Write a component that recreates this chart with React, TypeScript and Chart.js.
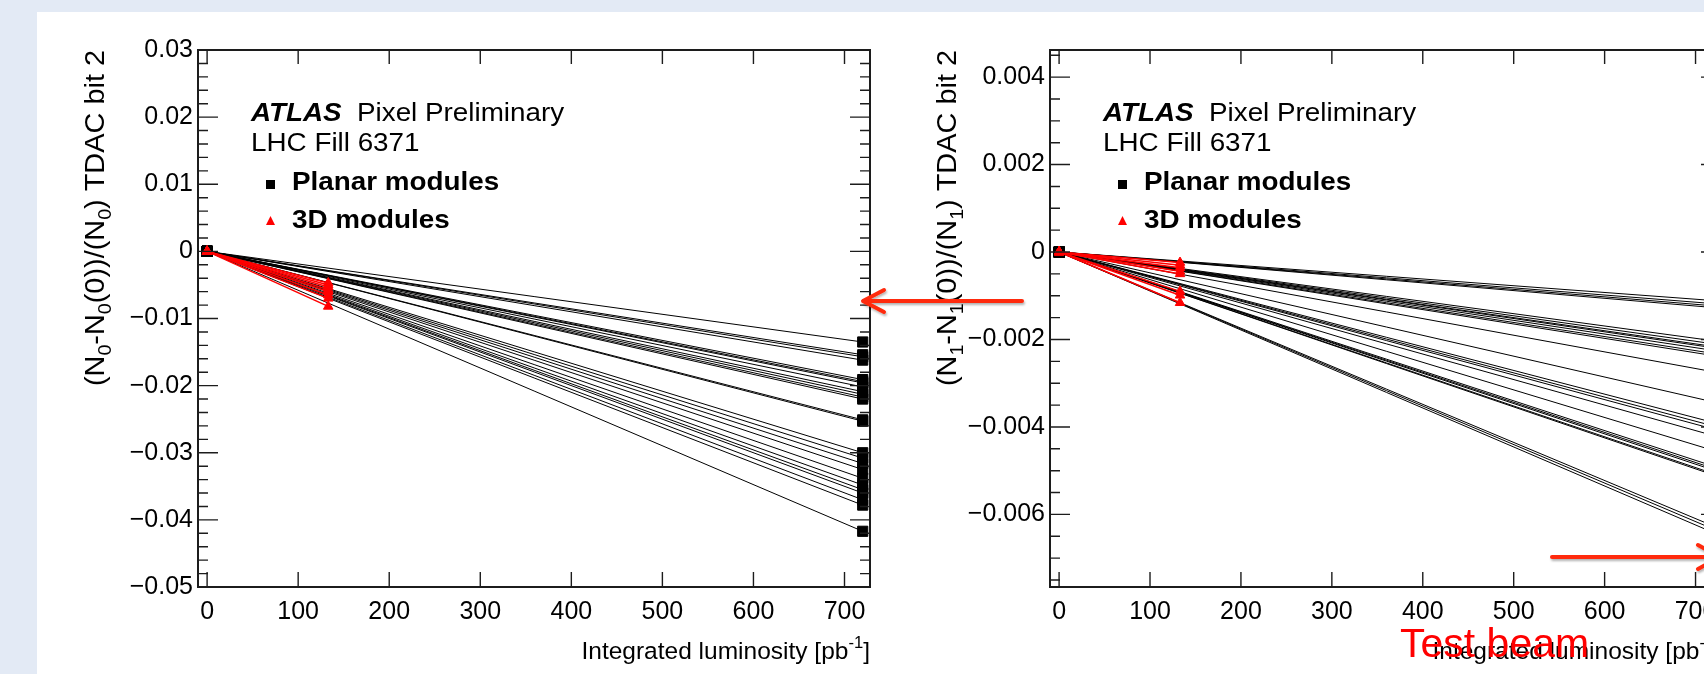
import React, { useEffect, useRef } from "react";
import { Chart, registerables } from "chart.js";

Chart.register(...registerables);

// ---------- data ----------
const LUMI_START = 0;
const LUMI_3D = 133;
const LUMI_PLANAR = 720;

const X_TICKS = [0, 100, 200, 300, 400, 500, 600, 700];
const X_TICK_LABELS = ["0", "100", "200", "300", "400", "500", "600", "700"];

const LEFT_Y_TICKS = [-0.05, -0.04, -0.03, -0.02, -0.01, 0, 0.01, 0.02, 0.03];
const LEFT_Y_TICK_LABELS = ["\u22120.05", "\u22120.04", "\u22120.03", "\u22120.02", "\u22120.01", "0", "0.01", "0.02", "0.03"];

const RIGHT_Y_TICKS = [-0.006, -0.004, -0.002, 0, 0.002, 0.004];
const RIGHT_Y_TICK_LABELS = ["\u22120.006", "\u22120.004", "\u22120.002", "0", "0.002", "0.004"];

// relative change at the end of the fill, per module (bit 2, N0)
const LEFT_PLANAR_END = [
  -0.0135, -0.0154, -0.0157, -0.0162, -0.0191, -0.0194, -0.0196, -0.0202, -0.0209,
  -0.0213, -0.0217, -0.022, -0.0251, -0.0253, -0.03, -0.0308, -0.0316, -0.0325,
  -0.0338, -0.0348, -0.0355, -0.036, -0.037, -0.0378, -0.0417,
];
const LEFT_3D_END = [-0.0047, -0.005, -0.0053, -0.0057, -0.006, -0.0065, -0.007, -0.0082];

// relative change per module (bit 2, N1)
const RIGHT_PLANAR_END = [
  -0.00111, -0.00118, -0.00123, -0.00127, -0.00203, -0.0021, -0.00216, -0.00219,
  -0.00225, -0.00232, -0.00237, -0.00274, -0.00343, -0.0039, -0.00398, -0.00405,
  -0.0042, -0.00454, -0.0049, -0.00495, -0.00499, -0.00507, -0.0051, -0.00627,
  -0.00634, -0.00642,
];
const RIGHT_3D_END = [-0.00024, -0.0003, -0.00036, -0.00044, -0.0005, -0.0009, -0.00099, -0.00116];

// ---------- style ----------
const FONT = '"Liberation Sans", Arial, Helvetica, sans-serif';
const BG = "#e3eaf5";
const ARROW = "#ff2a0a";
const TICK_FONT = 25;

type Panel = {
  yMin: number;
  yMax: number;
  yTicks: number[];
  yLabels: string[];
  yMinorStep: number;
  sub: string;
  planar: number[];
  threeD: number[];
  yAxisWidth: number;
  padRight: number;
};

const LEFT_PANEL: Panel = {
  yMin: -0.05,
  yMax: 0.03,
  yTicks: LEFT_Y_TICKS,
  yLabels: LEFT_Y_TICK_LABELS,
  yMinorStep: 0.002,
  sub: "0",
  planar: LEFT_PLANAR_END,
  threeD: LEFT_3D_END,
  yAxisWidth: 161,
  padRight: 10,
};

const RIGHT_PANEL: Panel = {
  yMin: -0.00766,
  yMax: 0.00462,
  yTicks: RIGHT_Y_TICKS,
  yLabels: RIGHT_Y_TICK_LABELS,
  yMinorStep: 0.0005,
  sub: "1",
  planar: RIGHT_PLANAR_END,
  threeD: RIGHT_3D_END,
  yAxisWidth: 170,
  padRight: 19,
};

function f(size: number, weight = "normal", style = "normal") {
  return `${style} ${weight} ${size}px ${FONT}`;
}

type Run = { t: string; k: "n" | "sub" | "sup" };

function runsWidth(ctx: CanvasRenderingContext2D, runs: Run[], size: number) {
  let w = 0;
  for (const r of runs) {
    ctx.font = f(r.k === "n" ? size : size * 0.68);
    w += ctx.measureText(r.t).width;
  }
  return w;
}

function drawRuns(ctx: CanvasRenderingContext2D, runs: Run[], size: number) {
  let x = 0;
  for (const r of runs) {
    const s = r.k === "n" ? size : size * 0.68;
    ctx.font = f(s);
    const dy = r.k === "sub" ? size * 0.27 : r.k === "sup" ? -size * 0.45 : 0;
    ctx.fillText(r.t, x, dy);
    x += ctx.measureText(r.t).width;
  }
}

function stretchText(
  ctx: CanvasRenderingContext2D,
  text: string,
  x: number,
  y: number,
  font: string,
  sx: number
) {
  ctx.save();
  ctx.font = font;
  ctx.translate(x, y);
  ctx.scale(sx, 1);
  ctx.fillText(text, 0, 0);
  ctx.restore();
}

function makePlugin(p: Panel) {
  return {
    id: "rootStyle",
    afterDatasetsDraw(chart: any) {
      const { ctx, chartArea: a, scales } = chart;
      const xs = scales.x;
      const ys = scales.y;
      ctx.save();
      ctx.strokeStyle = "#1c1c1c";
      ctx.lineWidth = 1.4;
      ctx.beginPath();
      for (const v of p.yTicks) {
        const py = ys.getPixelForValue(v);
        ctx.moveTo(a.left, py);
        ctx.lineTo(a.left + 20, py);
        ctx.moveTo(a.right, py);
        ctx.lineTo(a.right - 20, py);
      }
      const n0 = Math.ceil(p.yMin / p.yMinorStep - 1e-6);
      const n1 = Math.floor(p.yMax / p.yMinorStep + 1e-6);
      for (let i = n0; i <= n1; i++) {
        const py = ys.getPixelForValue(i * p.yMinorStep);
        ctx.moveTo(a.left, py);
        ctx.lineTo(a.left + 10, py);
        ctx.moveTo(a.right, py);
        ctx.lineTo(a.right - 10, py);
      }
      for (const v of X_TICKS) {
        const px = xs.getPixelForValue(v);
        ctx.moveTo(px, a.bottom);
        ctx.lineTo(px, a.bottom - 15);
        ctx.moveTo(px, a.top);
        ctx.lineTo(px, a.top + 14);
      }
      ctx.stroke();
      ctx.lineWidth = 2;
      ctx.strokeRect(a.left, a.top, a.right - a.left, a.bottom - a.top);

      // axis titles
      ctx.fillStyle = "#000";
      ctx.textBaseline = "alphabetic";
      ctx.textAlign = "left";
      const ySize = 27;
      const ySx = 1.07;
      const yRuns: Run[] = [
        { t: "(N", k: "n" },
        { t: p.sub, k: "sub" },
        { t: "-N", k: "n" },
        { t: p.sub, k: "sub" },
        { t: "(0))/(N", k: "n" },
        { t: p.sub, k: "sub" },
        { t: ") TDAC bit 2", k: "n" },
      ];
      const yw = runsWidth(ctx, yRuns, ySize) * ySx;
      ctx.save();
      ctx.translate(a.left - 94, a.top + yw);
      ctx.rotate(-Math.PI / 2);
      ctx.scale(ySx, 1);
      drawRuns(ctx, yRuns, ySize);
      ctx.restore();

      const xSize = 24.5;
      const xRuns: Run[] = [
        { t: "Integrated luminosity [pb", k: "n" },
        { t: "-1", k: "sup" },
        { t: "]", k: "n" },
      ];
      const xw = runsWidth(ctx, xRuns, xSize);
      ctx.save();
      ctx.translate(a.right - xw, a.bottom + 72);
      drawRuns(ctx, xRuns, xSize);
      ctx.restore();

      // legend block
      const L = a.left;
      const T = a.top;
      const lsx = 1.07;
      stretchText(ctx, "ATLAS", L + 53, T + 71, f(26, "bold", "italic"), lsx);
      stretchText(ctx, "Pixel Preliminary", L + 159, T + 71, f(26), lsx);
      stretchText(ctx, "LHC Fill 6371", L + 53, T + 101, f(26), lsx);
      stretchText(ctx, "Planar modules", L + 94, T + 140, f(26, "bold"), lsx);
      stretchText(ctx, "3D modules", L + 94, T + 178, f(26, "bold"), lsx);
      ctx.fillStyle = "#000";
      ctx.fillRect(L + 68, T + 130, 9, 9);
      ctx.fillStyle = "#ff0000";
      ctx.beginPath();
      ctx.moveTo(L + 72.5, T + 166);
      ctx.lineTo(L + 77, T + 175);
      ctx.lineTo(L + 68, T + 175);
      ctx.closePath();
      ctx.fill();
      ctx.restore();
    },
  };
}

function buildDatasets(p: Panel) {
  const red = p.threeD.map((v) => ({
    data: [
      { x: LUMI_START, y: 0 },
      { x: LUMI_3D, y: v },
    ],
    showLine: true,
    borderColor: "#ff0000",
    backgroundColor: "#ff0000",
    borderWidth: 1.5,
    pointStyle: "triangle",
    pointRadius: 5.5,
    pointBorderWidth: 1,
    pointBorderColor: "#ff0000",
  }));
  const black = p.planar.map((v) => ({
    data: [
      { x: LUMI_START, y: 0 },
      { x: LUMI_PLANAR, y: v },
    ],
    showLine: true,
    borderColor: "#000",
    backgroundColor: "#000",
    borderWidth: 1,
    pointStyle: "rect",
    pointRadius: 7.2,
    pointBorderWidth: 1,
    pointBorderColor: "#000",
  }));
  return [...red, ...black];
}

function buildConfig(p: Panel): any {
  return {
    type: "scatter",
    data: { datasets: buildDatasets(p) },
    options: {
      animation: false,
      responsive: false,
      devicePixelRatio: 1,
      events: [],
      layout: { padding: { left: 0, top: 38, right: p.padRight, bottom: 0 } },
      plugins: { legend: { display: false }, tooltip: { enabled: false } },
      scales: {
        x: {
          type: "linear",
          min: -10,
          max: 728,
          grid: { display: false, drawTicks: false },
          border: { display: false },
          afterBuildTicks: (s: any) => {
            s.ticks = X_TICKS.map((v) => ({ value: v }));
          },
          afterFit: (s: any) => {
            s.height = 87;
          },
          ticks: {
            padding: 10,
            color: "#000",
            maxRotation: 0,
            autoSkip: false,
            font: { family: FONT, size: TICK_FONT },
            callback: (_v: any, i: number) => X_TICK_LABELS[i],
          },
        },
        y: {
          type: "linear",
          min: p.yMin,
          max: p.yMax,
          grid: { display: false, drawTicks: false },
          border: { display: false },
          afterBuildTicks: (s: any) => {
            s.ticks = p.yTicks.map((v) => ({ value: v }));
          },
          afterFit: (s: any) => {
            s.width = p.yAxisWidth;
          },
          ticks: {
            padding: 5,
            color: "#000",
            autoSkip: false,
            font: { family: FONT, size: TICK_FONT },
            callback: (_v: any, i: number) => p.yLabels[i],
          },
        },
      },
    },
    plugins: [makePlugin(p)],
  };
}

function ChartPanel(props: { panel: Panel; left: number; top: number; width: number; height: number }) {
  const { panel, left, top, width, height } = props;
  const ref = useRef<HTMLCanvasElement | null>(null);
  useEffect(() => {
    if (!ref.current) return;
    const chart = new Chart(ref.current, buildConfig(panel));
    return () => chart.destroy();
  }, [panel]);
  return (
    <canvas
      ref={ref}
      width={width}
      height={height}
      style={{ position: "absolute", left, top, width, height, display: "block" }}
    />
  );
}

export default function App() {
  return (
    <div
      style={{
        position: "fixed",
        left: 0,
        top: 0,
        width: 1704,
        height: 674,
        overflow: "hidden",
        background: BG,
      }}
    >
      <div style={{ position: "absolute", left: 37, top: 12, width: 1667, height: 662, background: "#fff" }} />
      <ChartPanel panel={LEFT_PANEL} left={37} top={12} width={843} height={662} />
      <ChartPanel panel={RIGHT_PANEL} left={880} top={12} width={860} height={662} />
      <svg
        width={1704}
        height={674}
        style={{ position: "absolute", left: 0, top: 0, pointerEvents: "none" }}
      >
        <defs>
          <filter id="sh" x="-10%" y="-50%" width="120%" height="200%">
            <feDropShadow dx="1" dy="2" stdDeviation="1.2" floodColor="#000" floodOpacity="0.3" />
          </filter>
        </defs>
        <g stroke={ARROW} strokeWidth={4} fill="none" strokeLinecap="round" strokeLinejoin="round" filter="url(#sh)">
          <line x1={1022} y1={301} x2={864} y2={301} />
          <polyline points="884,290 863,301 884,312" />
          <line x1={1552} y1={557} x2={1718} y2={557} />
          <polyline points="1698,545 1720,557 1698,569" />
        </g>
        <text x={1400} y={657} fill="#ff0000" fontFamily={FONT} fontSize={41}>
          Test beam
        </text>
      </svg>
    </div>
  );
}
